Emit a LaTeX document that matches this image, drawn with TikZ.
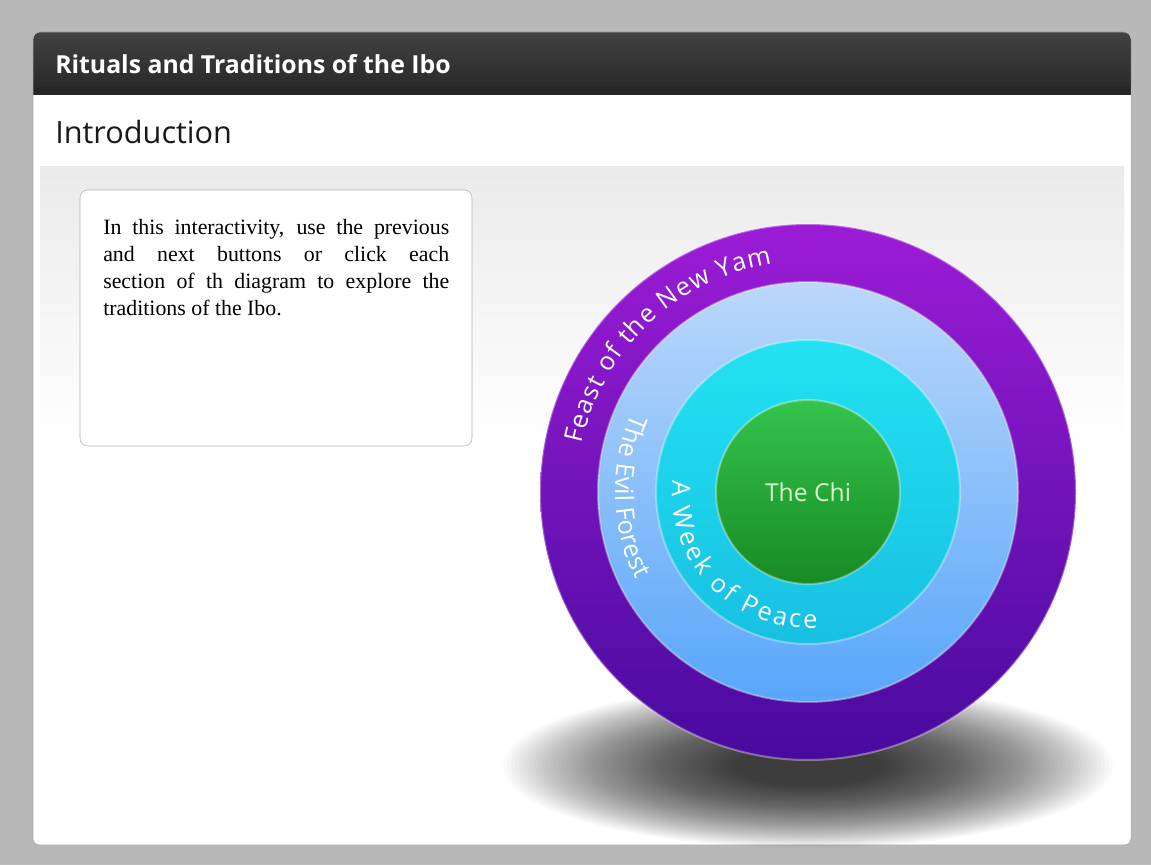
\documentclass[tikz,border=0pt]{standalone}
\usepackage{fontspec}
\setsansfont{Open Sans}
\newfontfamily\bodyfont{Liberation Serif}
\usepackage{tikz}
\usetikzlibrary{decorations.text}
\definecolor{pageGray}{RGB}{184,184,184}
\definecolor{hdrTop}{RGB}{66,66,66}
\definecolor{hdrBot}{RGB}{38,38,38}
\definecolor{yamTop}{RGB}{156,28,214}
\definecolor{yamBot}{RGB}{72,10,158}
\definecolor{forestTop}{RGB}{186,216,250}
\definecolor{forestBot}{RGB}{88,166,250}
\definecolor{peaceTop}{RGB}{34,226,242}
\definecolor{peaceBot}{RGB}{24,192,226}
\definecolor{chiTop}{RGB}{52,196,76}
\definecolor{chiBot}{RGB}{24,138,36}
\definecolor{chiText}{RGB}{214,246,200}
\newcommand{\ringfont}{\sffamily\fontsize{19}{19}\selectfont}
\tikzstyle{ring} = [draw=white, draw opacity=0.35, line width=1.5]
\tikzstyle{ringText} = [decorate, decoration={text along path, text align={fit to path}, text color=white}]

\begin{document}
\begin{tikzpicture}[x=0.75pt,y=0.75pt]
	\useasboundingbox (0,0) rectangle (1151,865);
	\fill[pageGray] (0,0) rectangle (1151,865);
	% panel and header
	\fill[white, rounded corners=5] (33,20) rectangle (1131,833);
	\shade[top color=black!8, bottom color=white] (40,420) rectangle (1124,698);
	\draw[black!8] (40,698) -- (1124,698);
	\shade[top color=hdrTop, bottom color=hdrBot, rounded corners=6] (33,770) rectangle (1131,833);
	\fill[hdrBot] (33,770) rectangle (1131,778);
	\draw[black!35, rounded corners=5] (33,20) rectangle (1131,833);
	\node (title) at (55,801) [anchor=west, inner sep=0, text=white, font=\sffamily\bfseries\fontsize{18.6}{18.6}\selectfont] {Rituals and Traditions of the Ibo};
	\node (intro) at (55,733) [anchor=west, inner sep=0, text=black!90, font=\sffamily\fontsize{23}{23}\selectfont] {Introduction};
	
	% text box
	\draw[black!30, fill=white, rounded corners=6] (80,419) rectangle (472,675);
	\node (info) at (103,646) [anchor=north west, inner sep=0, text width=259.5pt, align=justify, font=\bodyfont\fontsize{16.4}{20.2}\selectfont] {In this interactivity, use the previous\linebreak and next buttons or click each\linebreak section of th diagram to explore the\linebreak traditions of the Ibo.};
	
	% shadow under the rings
	\coordinate (shadow) at (808,99);
	\foreach \k in {0,...,59}
		\fill[black, opacity=0.018] (shadow) ellipse [x radius={305-3.9*\k}, y radius={82-1.05*\k}];
	
	% rings
	\coordinate (c) at (808,373);
	\path[ring, top color=yamTop, bottom color=yamBot] (c) circle[radius=268];
	\path[ring, top color=forestTop, bottom color=forestBot] (c) circle[radius=210];
	\path[ring, top color=peaceTop, bottom color=peaceBot] (c) circle[radius=152];
	\path[ring, top color=chiTop, bottom color=chiBot] (c) circle[radius=92];
	
	\path[ringText, decoration={text={|\ringfont|Feast of the New Yam}}] (c) ++(168:231) arc[start angle=168, end angle=99, radius=231];
	\path[ringText, decoration={text={|\ringfont|The Evil Forest}}] (c) ++(156:193) arc[start angle=156, end angle=207, radius=193];
	\path[ringText, decoration={text={|\ringfont|A Week of Peace}}] (c) ++(175:136) arc[start angle=175, end angle=274, radius=136];
	\node (chi) at (c) [text=chiText, font=\sffamily\fontsize{18.5}{18.5}\selectfont] {The Chi};
\end{tikzpicture}
\end{document}
